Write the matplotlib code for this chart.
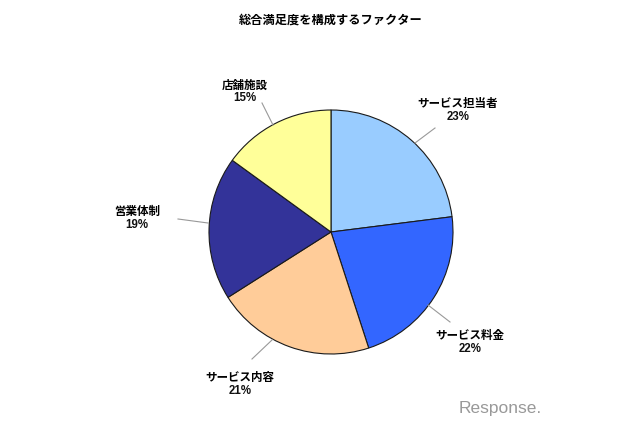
import matplotlib
matplotlib.use('Agg')
from matplotlib import pyplot as plt

plt.rcParams['font.family'] = ['Noto Sans CJK JP', 'DejaVu Sans']

labels = ['サービス担当者', 'サービス料金', 'サービス内容', '営業体制', '店舗施設']
shares = [23, 22, 21, 19, 15]
colors = ['#99ccff', '#3366ff', '#ffcc99', '#333399', '#ffff99']

# pie placement in pixels, leader lines and label centres in pixels from top-left
R = 122.0
cx, cy = 331.0, 194.0   # pie centre, pixels from bottom-left
label_pos = [(415, 143, 435, 128, 458, 110),
             (428, 305, 450, 322, 470, 342),
             (272, 340, 252, 359, 240, 384),
             (208, 223, 178, 219, 137, 218),
             (273, 125, 262, 103, 245, 91)]


def to_data(px, py):
    # pixel (from top-left) -> pie data units
    return (px - cx) / R, ((426 - py) - cy) / R


fig = plt.figure(figsize=(6.4, 4.26), dpi=100)
ax = fig.add_axes([0, 0, 1, 1])

ax.pie(shares, colors=colors, startangle=90, counterclock=False, radius=1.0,
       wedgeprops=dict(edgecolor='#1a1a1a', linewidth=0.8))

ax.set_xlim(-cx / R, (640 - cx) / R)
ax.set_ylim(-cy / R, (426 - cy) / R)
ax.set_aspect('auto')
ax.axis('off')

for name, val, pos in zip(labels, shares, label_pos):
    x0, y0 = to_data(pos[0], pos[1])
    x1, y1 = to_data(pos[2], pos[3])
    tx, ty = to_data(pos[4], pos[5])
    ax.plot([x0, x1], [y0, y1], color='#999999', linewidth=0.8)
    ax.text(tx, ty + 0.05, name, ha='center', va='center', fontsize=8.3,
            fontweight='bold', color='black')
    ax.text(tx, ty - 0.055, '%d%%' % val, ha='center', va='center', fontsize=8.3,
            fontweight='bold', color='#111111', family=['Liberation Sans', 'DejaVu Sans'])

fig.text(331 / 640, 1 - 20 / 426, '総合満足度を構成するファクター', ha='center', va='center',
         fontsize=8.8, fontweight='bold')

fig.text(500 / 640, 1 - 408 / 426, 'Response.', ha='center', va='center', fontsize=12.5,
         color='#999999', family=['Liberation Sans', 'DejaVu Sans'])

plt.savefig('out.png', dpi=100)
